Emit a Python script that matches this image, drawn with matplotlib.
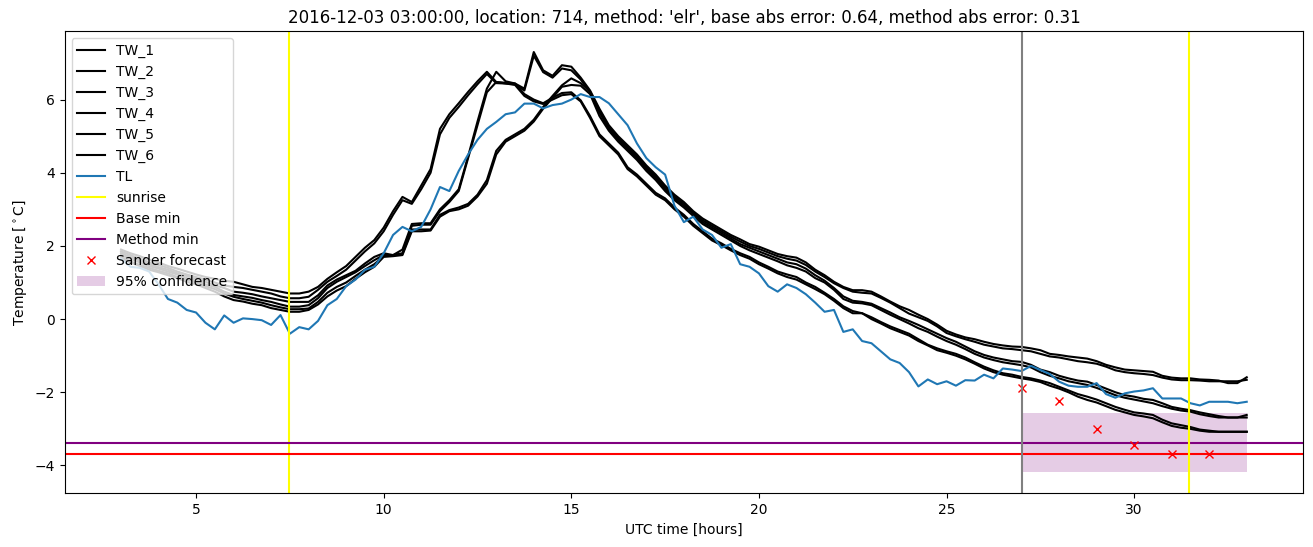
import numpy as np
import matplotlib
matplotlib.use("Agg")
import matplotlib.pyplot as plt

# sampling times (UTC hours), every 15 minutes
hours = np.arange(3, 33.01, 0.25)

tw_1 = [1.90, 1.80, 1.72, 1.62, 1.55, 1.45, 1.38, 1.30, 1.22, 1.15, 1.10, 1.05,
        1.02, 0.95, 0.88, 0.85, 0.80, 0.75, 0.70, 0.70, 0.75, 0.88, 1.10, 1.28,
        1.45, 1.70, 1.95, 2.16, 2.50, 2.95, 3.34, 3.20, 3.65, 4.10, 5.20, 5.60,
        5.90, 6.21, 6.50, 6.76, 6.48, 6.46, 6.44, 6.30, 7.30, 6.80, 6.65, 6.94,
        6.90, 6.60, 6.25, 5.75, 5.30, 5.00, 4.75, 4.50, 4.20, 3.95, 3.65, 3.40,
        3.20, 2.95, 2.75, 2.60, 2.45, 2.30, 2.18, 2.05, 1.98, 1.88, 1.78, 1.72,
        1.68, 1.55, 1.35, 1.20, 1.02, 0.88, 0.79, 0.79, 0.75, 0.62, 0.48, 0.35,
        0.25, 0.12, 0.00, -0.15, -0.32, -0.42, -0.50, -0.55, -0.62, -0.68, -0.72, -0.75,
        -0.76, -0.80, -0.85, -0.95, -0.98, -1.02, -1.05, -1.08, -1.15, -1.25, -1.32, -1.38,
        -1.40, -1.42, -1.44, -1.55, -1.60, -1.62, -1.62, -1.65, -1.66, -1.68, -1.75, -1.75,
        -1.59]
tw_2 = [1.85, 1.75, 1.65, 1.55, 1.48, 1.40, 1.30, 1.22, 1.15, 1.08, 1.00, 0.92,
        0.88, 0.85, 0.80, 0.75, 0.70, 0.62, 0.57, 0.57, 0.61, 0.80, 1.02, 1.18,
        1.35, 1.60, 1.85, 2.07, 2.40, 2.85, 3.25, 3.15, 3.55, 4.00, 5.05, 5.50,
        5.80, 6.12, 6.42, 6.70, 6.45, 6.44, 6.42, 6.25, 7.20, 6.75, 6.60, 6.85,
        6.80, 6.55, 6.20, 5.70, 5.25, 4.95, 4.70, 4.45, 4.15, 3.90, 3.60, 3.35,
        3.15, 2.90, 2.70, 2.55, 2.40, 2.25, 2.12, 2.00, 1.92, 1.82, 1.72, 1.65,
        1.60, 1.48, 1.30, 1.15, 0.98, 0.85, 0.75, 0.72, 0.70, 0.58, 0.45, 0.30,
        0.15, 0.05, -0.05, -0.20, -0.38, -0.47, -0.55, -0.62, -0.70, -0.75, -0.80, -0.82,
        -0.85, -0.88, -0.95, -1.02, -1.05, -1.10, -1.15, -1.18, -1.22, -1.30, -1.40, -1.45,
        -1.48, -1.50, -1.53, -1.60, -1.65, -1.67, -1.67, -1.68, -1.70, -1.70, -1.70, -1.70,
        -1.66]
tw_3 = [1.80, 1.70, 1.60, 1.50, 1.42, 1.35, 1.25, 1.18, 1.10, 1.02, 0.92, 0.85,
        0.75, 0.72, 0.68, 0.62, 0.57, 0.52, 0.47, 0.47, 0.47, 0.65, 0.92, 1.08,
        1.20, 1.32, 1.52, 1.70, 1.80, 1.75, 1.90, 2.60, 2.62, 2.62, 3.00, 3.25,
        3.55, 4.45, 5.40, 6.30, 6.76, 6.50, 6.44, 6.15, 6.00, 5.90, 6.05, 6.18,
        6.20, 5.98, 5.55, 5.05, 4.80, 4.55, 4.15, 3.95, 3.70, 3.45, 3.30, 3.05,
        2.85, 2.60, 2.40, 2.20, 2.07, 1.92, 1.80, 1.70, 1.55, 1.43, 1.30, 1.22,
        1.15, 1.00, 0.88, 0.72, 0.55, 0.35, 0.22, 0.16, 0.05, -0.08, -0.20, -0.30,
        -0.40, -0.55, -0.70, -0.80, -0.88, -0.95, -1.05, -1.18, -1.30, -1.40, -1.48, -1.52,
        -1.58, -1.62, -1.68, -1.75, -1.85, -1.95, -2.05, -2.12, -2.20, -2.30, -2.40, -2.48,
        -2.55, -2.58, -2.62, -2.75, -2.85, -2.90, -2.95, -3.02, -3.05, -3.08, -3.08, -3.08,
        -3.08]
tw_4 = [1.75, 1.65, 1.55, 1.45, 1.38, 1.30, 1.22, 1.12, 1.05, 0.95, 0.88, 0.75,
        0.66, 0.62, 0.58, 0.52, 0.47, 0.40, 0.34, 0.34, 0.38, 0.57, 0.85, 1.02,
        1.15, 1.28, 1.45, 1.61, 1.75, 1.75, 1.80, 2.55, 2.58, 2.58, 2.95, 3.20,
        3.50, 4.40, 5.30, 6.20, 6.48, 6.44, 6.40, 6.10, 5.95, 5.88, 6.00, 6.12,
        6.15, 5.95, 5.50, 5.00, 4.75, 4.50, 4.10, 3.90, 3.65, 3.40, 3.25, 3.00,
        2.80, 2.55, 2.35, 2.15, 2.02, 1.88, 1.75, 1.65, 1.50, 1.38, 1.25, 1.15,
        1.08, 0.95, 0.82, 0.68, 0.50, 0.30, 0.16, 0.16, 0.00, -0.12, -0.25, -0.35,
        -0.45, -0.60, -0.72, -0.85, -0.92, -1.00, -1.10, -1.22, -1.35, -1.45, -1.52, -1.57,
        -1.62, -1.66, -1.72, -1.82, -1.90, -2.00, -2.12, -2.21, -2.28, -2.38, -2.48, -2.55,
        -2.62, -2.66, -2.71, -2.82, -2.92, -2.97, -3.00, -3.05, -3.08, -3.08, -3.08, -3.08,
        -3.08]
tw_5 = [1.70, 1.58, 1.48, 1.40, 1.32, 1.25, 1.15, 1.08, 1.00, 0.90, 0.82, 0.70,
        0.61, 0.55, 0.50, 0.45, 0.38, 0.32, 0.27, 0.27, 0.29, 0.47, 0.72, 0.88,
        1.00, 1.18, 1.35, 1.50, 1.72, 1.75, 1.78, 2.45, 2.45, 2.45, 2.85, 2.98,
        3.05, 3.15, 3.40, 3.80, 4.60, 4.90, 5.05, 5.20, 5.45, 5.80, 6.10, 6.39,
        6.58, 6.45, 6.22, 5.65, 5.20, 4.90, 4.65, 4.40, 4.10, 3.85, 3.55, 3.30,
        3.10, 2.88, 2.65, 2.50, 2.35, 2.20, 2.05, 1.95, 1.85, 1.75, 1.65, 1.55,
        1.50, 1.38, 1.20, 1.05, 0.85, 0.62, 0.50, 0.47, 0.42, 0.30, 0.18, 0.05,
        -0.05, -0.16, -0.28, -0.40, -0.52, -0.62, -0.75, -0.88, -0.98, -1.05, -1.10, -1.15,
        -1.17, -1.25, -1.38, -1.45, -1.55, -1.62, -1.68, -1.71, -1.80, -1.90, -2.00, -2.08,
        -2.12, -2.18, -2.21, -2.30, -2.40, -2.45, -2.49, -2.55, -2.60, -2.65, -2.69, -2.69,
        -2.62]
tw_6 = [1.65, 1.55, 1.45, 1.35, 1.28, 1.20, 1.12, 1.02, 0.95, 0.85, 0.75, 0.62,
        0.52, 0.48, 0.42, 0.38, 0.30, 0.25, 0.20, 0.20, 0.25, 0.40, 0.62, 0.78,
        0.90, 1.10, 1.28, 1.43, 1.70, 1.72, 1.75, 2.40, 2.40, 2.42, 2.80, 2.95,
        3.00, 3.10, 3.35, 3.70, 4.50, 4.85, 5.00, 5.15, 5.40, 5.75, 6.05, 6.35,
        6.40, 6.38, 6.15, 5.55, 5.15, 4.85, 4.60, 4.35, 4.05, 3.80, 3.50, 3.25,
        3.05, 2.82, 2.60, 2.45, 2.30, 2.15, 2.00, 1.88, 1.78, 1.68, 1.58, 1.47,
        1.40, 1.30, 1.12, 1.00, 0.80, 0.55, 0.45, 0.43, 0.38, 0.25, 0.12, 0.00,
        -0.12, -0.25, -0.35, -0.48, -0.60, -0.70, -0.82, -0.95, -1.05, -1.12, -1.18, -1.22,
        -1.26, -1.32, -1.45, -1.55, -1.62, -1.70, -1.75, -1.80, -1.88, -1.98, -2.08, -2.15,
        -2.20, -2.25, -2.30, -2.38, -2.45, -2.50, -2.53, -2.60, -2.65, -2.69, -2.69, -2.69,
        -2.69]
tl = [1.65, 1.43, 1.40, 1.30, 0.95, 0.55, 0.45, 0.25, 0.18, -0.10, -0.28, 0.10,
      -0.10, 0.02, 0.00, -0.03, -0.16, 0.11, -0.40, -0.22, -0.28, -0.05, 0.38, 0.55,
      0.90, 1.08, 1.35, 1.43, 1.80, 2.30, 2.52, 2.40, 2.52, 3.00, 3.61, 3.50,
      4.05, 4.50, 4.90, 5.20, 5.39, 5.60, 5.65, 5.89, 5.89, 5.76, 5.85, 5.89,
      6.00, 6.15, 6.07, 6.07, 5.90, 5.60, 5.30, 4.80, 4.40, 4.15, 3.95, 3.10,
      2.65, 2.80, 2.45, 2.30, 1.95, 2.05, 1.50, 1.43, 1.25, 0.90, 0.75, 0.95,
      0.85, 0.68, 0.45, 0.20, 0.25, -0.35, -0.28, -0.60, -0.66, -0.88, -1.10, -1.20,
      -1.45, -1.84, -1.65, -1.78, -1.70, -1.82, -1.67, -1.68, -1.52, -1.62, -1.35, -1.38,
      -1.42, -1.28, -1.39, -1.50, -1.71, -1.82, -1.85, -1.85, -1.75, -2.05, -2.15, -2.03,
      -1.98, -1.95, -1.89, -2.17, -2.17, -2.17, -2.30, -2.36, -2.26, -2.26, -2.26, -2.30,
      -2.26]

sunrise = [7.47, 31.47]
forecast_start = 27
base_min = -3.70
method_min = -3.38
sander_hours = [27, 28, 29, 30, 31, 32]
sander_temp = [-1.88, -2.23, -3.00, -3.45, -3.70, -3.68]
conf_hours = [27, 33]
conf_low = -4.19
conf_high = -2.56

fig = plt.figure(figsize=(13.13, 5.47), dpi=100)
ax = fig.add_subplot(111)
fig.subplots_adjust(left=0.0493, right=0.9924, top=0.9433, bottom=0.098)

for i, tw in enumerate([tw_1, tw_2, tw_3, tw_4, tw_5, tw_6]):
    ax.plot(hours, tw, color="black", label="TW_%d" % (i + 1))
ax.plot(hours, tl, label="TL")
ax.axvline(sunrise[0], color="yellow", label="sunrise")
ax.axhline(base_min, color="red", label="Base min")
ax.axhline(method_min, color="purple", label="Method min")
ax.plot(sander_hours, sander_temp, "x", color="red", label="Sander forecast")
ax.fill_between(conf_hours, conf_low, conf_high, color="purple", alpha=0.2,
                linewidth=0, label="95% confidence")
ax.axvline(forecast_start, color="grey")
ax.axvline(sunrise[1], color="yellow")

ax.set_title("2016-12-03 03:00:00, location: 714, method: 'elr', "
             "base abs error: 0.64, method abs error: 0.31")
ax.set_xlabel("UTC time [hours]")
ax.set_ylabel(r"Temperature [$^\circ$C]")
ax.legend(loc="upper left")

fig.savefig("out.png", dpi=100)
